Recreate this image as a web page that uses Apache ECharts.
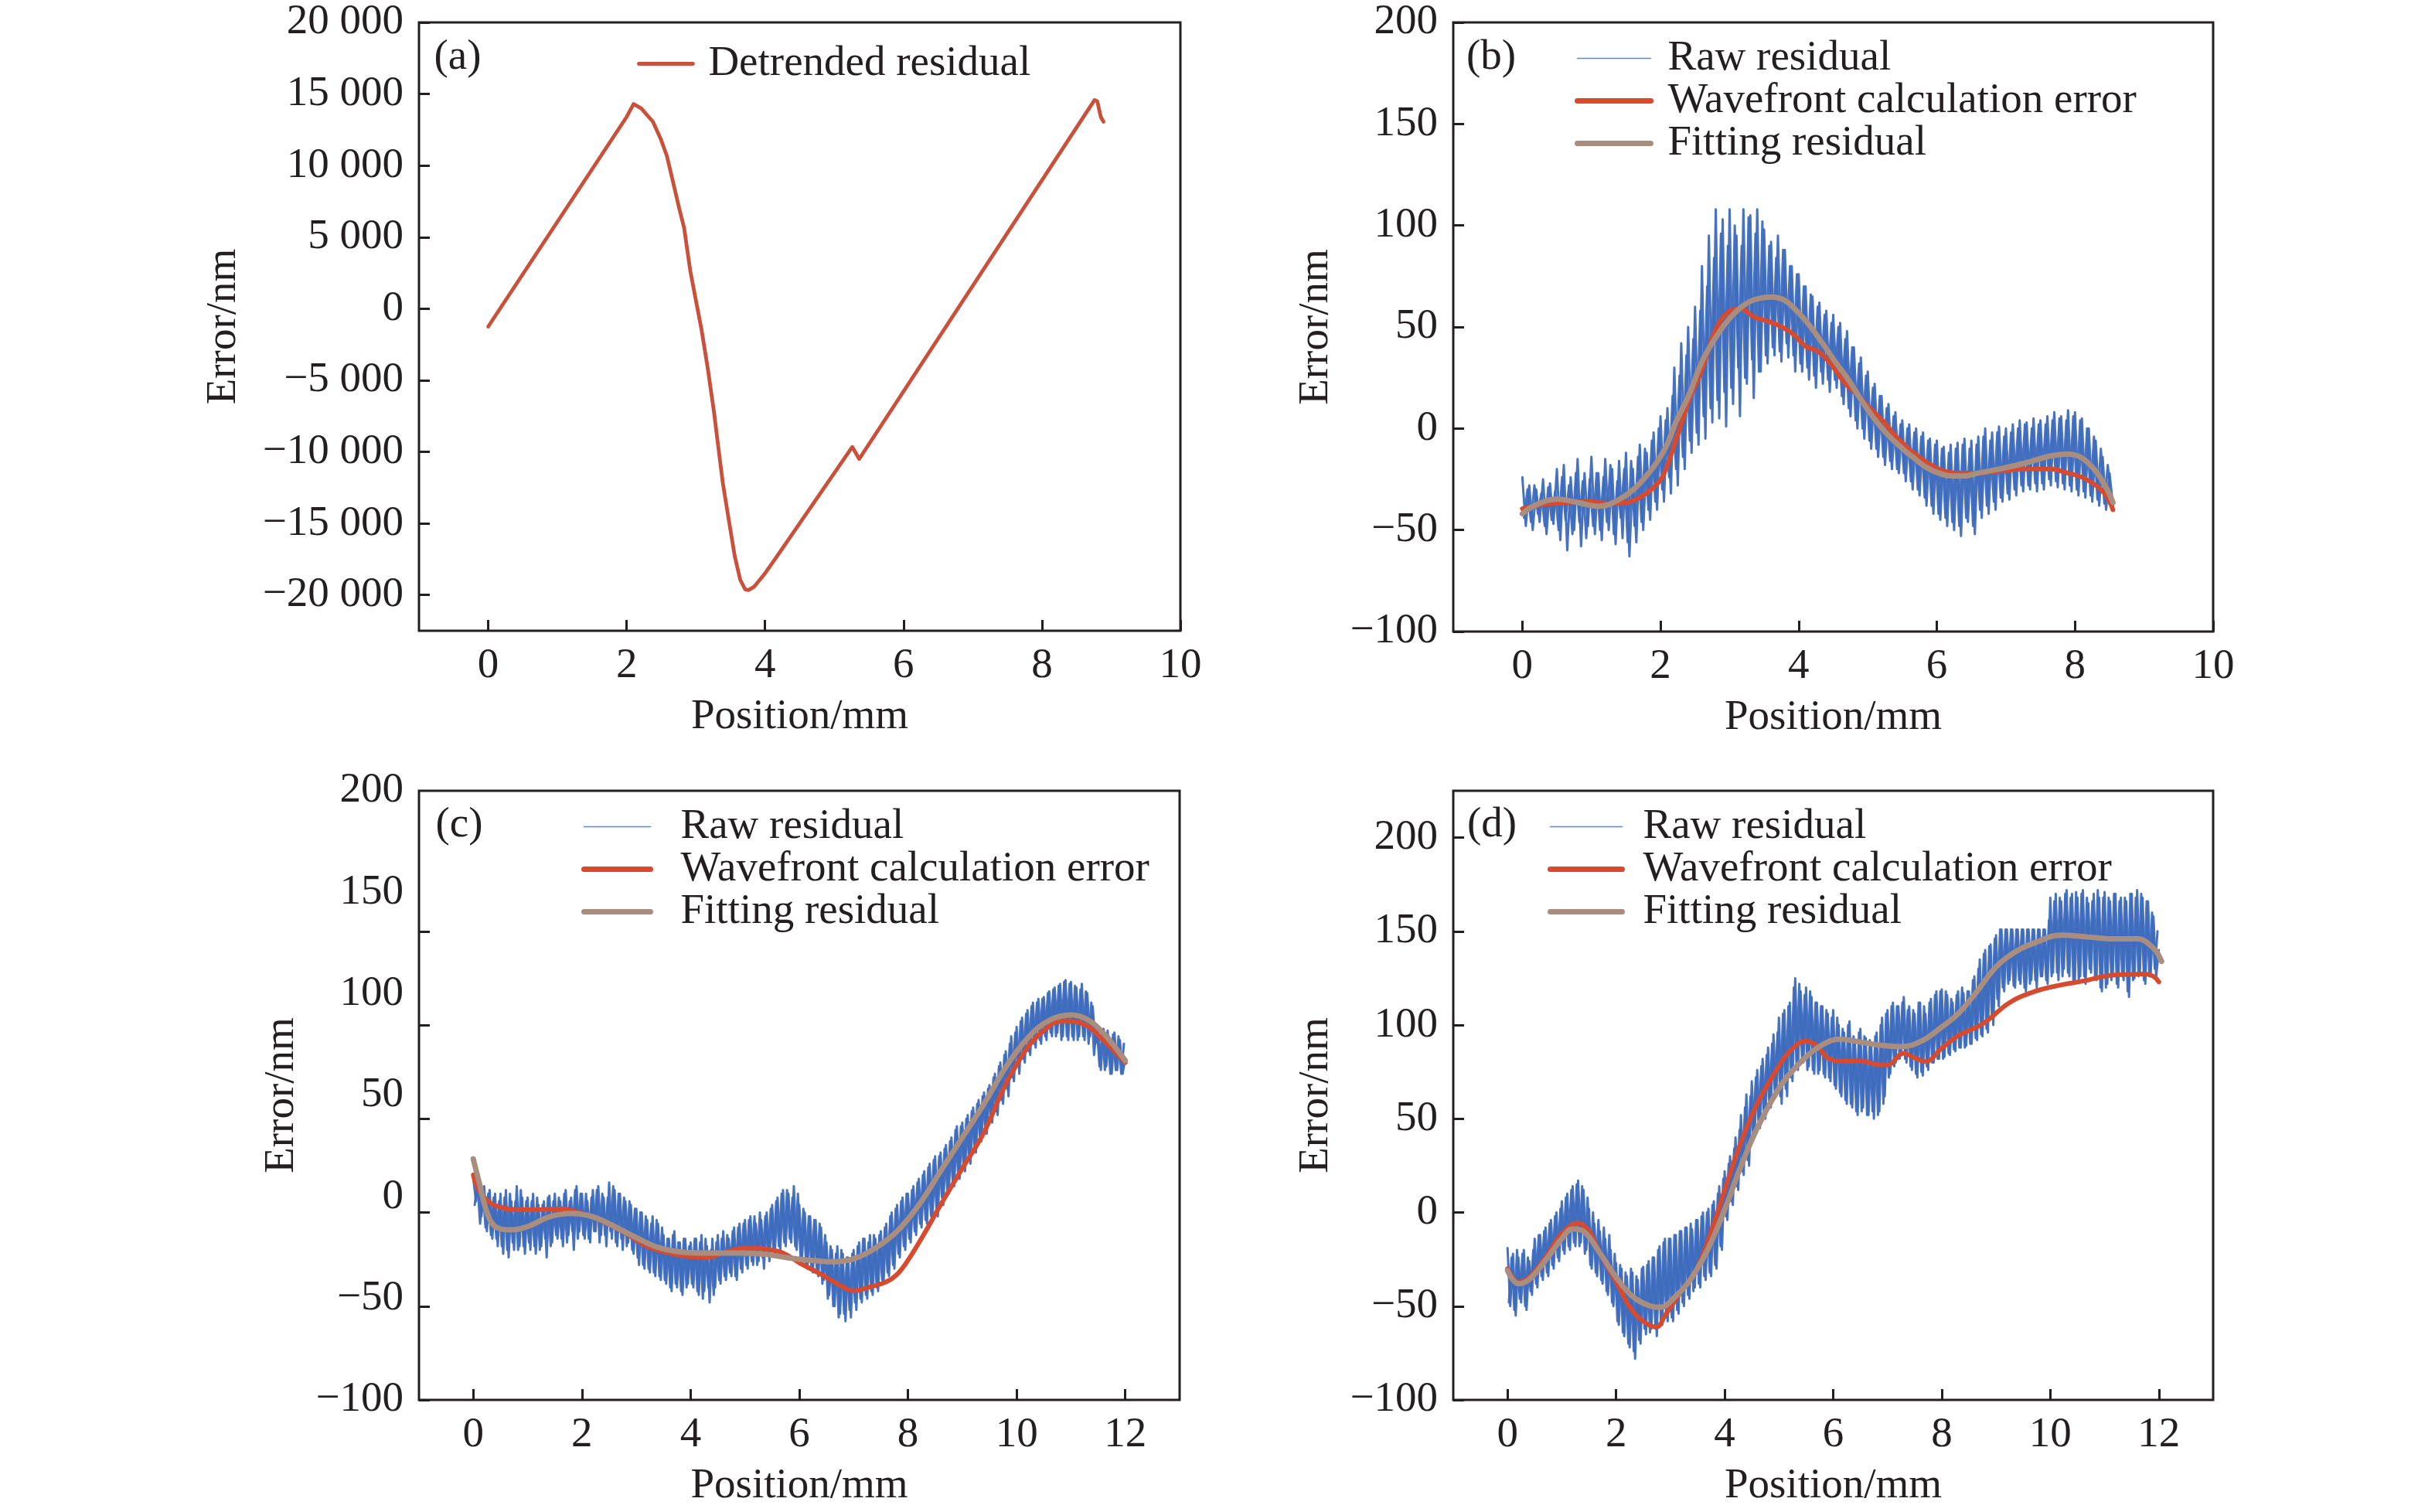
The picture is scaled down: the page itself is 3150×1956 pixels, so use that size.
<!DOCTYPE html>
<html><head><meta charset="utf-8">
<script src="https://cdn.jsdelivr.net/npm/echarts@6/dist/echarts.min.js"></script>
<style>html,body{margin:0;padding:0;background:#fff}#c{width:3150px;height:1956px}</style>
</head><body><div id="c"></div>
<script>
// ---------------- DATA ----------------
// (a) detrended residual
const detrendX = [0, 2.0, 2.10, 2.21, 2.38, 2.49, 2.58, 2.67, 2.76, 2.83, 2.92, 3.0, 3.08, 3.17, 3.26, 3.32, 3.39, 3.48, 3.56, 3.64, 3.71, 3.76, 3.84, 4.01, 4.18, 5.26, 5.36, 8.76, 8.80, 8.85, 8.89];
const detrendY = [-1250, 13400, 14300, 14000, 13060, 11890, 10700, 8860, 7000, 5660, 2630, 600, -1410, -4110, -7140, -9500, -12190, -14880, -17240, -18920, -19600, -19660, -19430, -18420, -17240, -9660, -10500, 14580, 14480, 13400, 13060];

// (b)
const wfbX = [0, 0.3, 0.6, 1.0, 1.2, 1.5, 1.7, 1.9, 2.04, 2.23, 2.41, 2.6, 2.79, 2.97, 3.16, 3.35, 3.54, 3.72, 3.91, 4.1, 4.28, 4.47, 4.66, 4.84, 5.03, 5.22, 5.41, 5.59, 5.78, 5.97, 6.16, 6.34, 6.53, 6.9, 7.28, 7.65, 7.9, 8.1, 8.3, 8.45, 8.55];
const wfbY = [-39.5, -37.5, -36.5, -36, -37, -36.5, -34, -29, -23, -5, 13.8, 29, 48, 57, 59, 55, 53, 50.6, 46.8, 40.5, 38, 31.6, 22.7, 17, 10, 3.7, -4, -10, -15, -19, -21.5, -22, -22, -21, -20, -20, -22, -24, -28, -33, -40];
const fitbX = [0, 0.2, 0.5, 0.8, 1.1, 1.4, 1.7, 2.04, 2.23, 2.41, 2.6, 2.79, 2.97, 3.16, 3.35, 3.6, 3.79, 3.97, 4.16, 4.35, 4.53, 4.72, 4.91, 5.09, 5.28, 5.47, 5.65, 5.84, 6.03, 6.22, 6.41, 6.59, 6.9, 7.28, 7.65, 7.9, 8.1, 8.3, 8.45, 8.55];
const fitbY = [-42, -37.6, -34.8, -36.4, -38.3, -35, -27, -11.5, 3.7, 16.4, 32.9, 44.3, 53, 59.5, 63.3, 64.8, 63.3, 58, 50.6, 41.7, 32.9, 24, 13.8, 5, -2.7, -9, -14, -19, -22, -23.4, -23.4, -22, -20, -17, -13.5, -12.6, -14.5, -21, -29, -36.4];
const RAW_STEP = 0.05;   // sample spacing of each raw-residual trace, mm
const RAW_SHIFT = 0.025; // the second trace is sampled half a step later
const rawB = [
 -24,-48,-28,-50,-30,-46,-25,-52,-27,-47,
 -20,-55,-18,-60,-24,-50,-15,-58,-22,-48,
 -14,-52,-22,-55,-15,-50,-20,-57,-16,-54,
 -12,-63,-20,-56,-8,-50,-12,-45,-2,-40,
 6,-36,10,-32,30,-28,42,-20,50,-12,
 60,-8,80,-5,95,3,108,5,103,1,
 108,12,95,6,108,22,105,15,108,28,
 98,32,92,36,95,33,88,35,80,28,
 76,28,70,24,65,20,62,22,58,18,
 56,20,52,12,48,6,40,0,35,-5,
 28,-10,22,-14,16,-18,12,-20,8,-22,
 4,-26,2,-30,0,-33,-2,-38,-5,-42,
 -6,-45,-9,-48,-8,-50,-7,-53,-5,-46,
 -6,-52,-4,-44,0,-42,-2,-40,1,-36,
 0,-35,2,-33,4,-31,3,-30,5,-31,
 4,-30,6,-28,8,-29,6,-30,9,-31,
 8,-33,5,-34,0,-36,-6,-38,-14,-40,
 -22,-38];
const rawB2 = [
 -44,-30,-46,-28,-42,-32,-48,-29,-45,-31,
 -50,-24,-45,-28,-52,-22,-46,-26,-54,-25,
 -48,-22,-50,-24,-46,-18,-52,-26,-44,-20,
 -56,-16,-48,-14,-46,-10,-40,-6,-36,0,
 -30,4,-24,16,-20,26,-14,36,-6,44,
 -2,58,6,70,10,84,14,96,18,90,
 20,100,30,90,25,104,34,96,28,102,
 36,90,40,84,38,88,42,80,36,76,
 32,70,30,66,26,60,28,56,24,52,
 24,50,16,44,10,40,4,32,0,26,
 -6,20,-10,16,-14,10,-16,6,-20,2,
 -22,0,-26,-2,-30,-4,-34,-6,-38,-8,
 -42,-10,-44,-12,-46,-10,-48,-8,-44,-10,
 -48,-8,-40,-4,-38,-6,-36,-2,-34,-4,
 -32,-2,-30,0,-28,2,-28,0,-27,2,
 -27,2,-25,4,-26,5,-27,4,-28,6,
 -30,4,-31,0,-33,-4,-35,-10,-37,-18,
 -36];

// (c)
const wfcX = [0, 0.1, 0.3, 0.5, 0.8, 1.2, 1.6, 2.0, 2.4, 2.8, 3.2, 3.6, 4.0, 4.3, 4.6, 5.0, 5.4, 5.7, 6.0, 6.4, 6.8, 7.0, 7.3, 7.6, 7.8, 8.0, 8.3, 8.6, 9.0, 9.4, 9.8, 10.2, 10.5, 10.8, 11.0, 11.3, 11.6, 12.0];
const wfcY = [20, 12, 5.4, 2.8, 1.5, 1.5, 2, -0.5, -5, -11, -18, -21.6, -23.7, -24, -21.6, -19, -19.6, -21.6, -26.8, -33, -39.7, -41.7, -39.7, -37, -33, -25.5, -11.3, 4, 23.5, 42.8, 68.5, 88, 97, 102, 102, 99.5, 91.7, 80];
const fitcX = [0, 0.1, 0.3, 0.5, 0.7, 1.0, 1.4, 1.8, 2.2, 2.6, 3.0, 3.4, 3.8, 4.2, 4.6, 5.0, 5.4, 5.8, 6.2, 6.6, 7.0, 7.4, 7.8, 8.2, 8.6, 9.0, 9.4, 9.8, 10.2, 10.6, 11.0, 11.3, 11.6, 12.0];
const fitcY = [28.6, 17, -3.6, -8.8, -9.3, -7.5, -2.3, -0.5, -2.3, -7.5, -13.4, -18.6, -21, -21.6, -21.6, -21.6, -22.4, -24.2, -25.5, -26.3, -24.7, -19, -10, 4, 22, 40, 58, 77.5, 93, 102.5, 105.4, 103, 95.5, 81];
const rawC = [
 18,6,20,-2,14,-10,12,-14,10,-18,
 10,-22,12,-24,6,-20,14,-18,8,-22,
 8,-20,10,-22,4,-18,6,-24,9,-16,
 10,-14,6,-18,12,-12,8,-20,14,-10,
 10,-14,6,-16,12,-10,14,-12,8,-18,
 16,-14,12,-18,10,-20,6,-16,4,-22,
 2,-28,0,-30,-4,-32,-2,-34,-6,-36,
 -12,-38,-14,-42,-10,-40,-16,-44,-14,-38,
 -16,-40,-14,-44,-12,-42,-18,-48,-14,-40,
 -12,-38,-10,-36,-14,-34,-8,-36,-6,-32,
 -4,-30,-2,-28,-6,-26,-4,-30,0,-26,
 4,-22,8,-20,12,-18,10,-16,14,-20,
 4,-24,0,-30,-2,-32,-4,-34,-8,-36,
 -16,-44,-20,-50,-18,-54,-22,-58,-24,-56,
 -20,-52,-16,-48,-14,-46,-12,-44,-14,-42,
 -10,-38,-6,-34,0,-30,4,-24,8,-20,
 10,-16,14,-12,18,-8,22,-6,26,-4,
 30,-2,32,4,36,10,40,14,46,18,
 48,22,52,26,56,32,60,38,64,42,
 68,48,74,52,80,58,86,62,94,70,
 99,74,104,80,108,84,112,88,114,90,
 115,92,118,94,120,96,122,94,124,92,
 123,92,120,94,122,92,117,94,110,90,
 97,76,98,78,94,74,96,76,92,74,
 82];
const rawC2 = [
 4,16,-6,12,-8,10,-12,8,-14,6,
 -18,8,-20,10,-16,6,-20,12,-18,6,
 -16,6,-18,8,-20,4,-14,8,-18,6,
 -12,8,-14,10,-16,6,-10,12,-14,10,
 -12,10,-14,8,-10,12,-16,10,-12,8,
 -10,14,-16,10,-14,8,-18,6,-20,2,
 -24,0,-28,-2,-30,-6,-32,-4,-34,-8,
 -36,-14,-40,-12,-38,-16,-42,-14,-40,-18,
 -38,-14,-42,-16,-46,-14,-40,-20,-44,-16,
 -36,-14,-34,-12,-32,-10,-34,-8,-30,-6,
 -28,-4,-26,-2,-28,0,-24,-2,-22,2,
 -20,6,-18,10,-16,12,-14,8,-18,10,
 -26,2,-28,-2,-30,-4,-32,-6,-38,-12,
 -46,-18,-50,-22,-56,-20,-54,-24,-52,-22,
 -48,-18,-46,-14,-44,-16,-42,-12,-40,-12,
 -36,-8,-32,-2,-28,2,-22,6,-18,10,
 -14,12,-10,16,-6,20,-4,24,-2,28,
 2,30,8,34,12,38,16,44,20,46,
 24,50,28,54,34,58,40,62,44,66,
 50,72,54,78,60,84,66,90,72,96,
 78,102,82,106,86,110,90,112,92,114,
 94,117,96,119,94,121,92,123,94,122,
 94,121,92,119,94,118,90,112,84,100,
 78,96,76,97,74,95,76,94,74,90];

// (d)
const wfdX = [0, 0.2, 0.4, 0.7, 1.0, 1.3, 1.5, 1.7, 2.0, 2.3, 2.6, 2.75, 2.9, 3.2, 3.5, 3.8, 4.0, 4.3, 4.6, 4.9, 5.2, 5.5, 5.7, 5.9, 6.2, 6.5, 6.8, 7.0, 7.3, 7.5, 7.7, 8.0, 8.3, 8.77, 9.25, 9.72, 10.2, 10.6, 11.14, 11.5, 11.76, 11.9, 12.0];
const wfdY = [-30, -37, -34.5, -24, -11.3, -5.7, -10, -21.6, -37, -52.4, -60, -61, -55, -42, -29.3, -6, 12, 37.5, 58, 73.5, 86, 91.5, 89, 82.5, 80.7, 80.7, 79, 78.7, 85, 82.5, 80.5, 87.7, 94.3, 101, 112, 118, 121.4, 123.5, 126.6, 127, 127.3, 126, 123];
const fitdX = [0, 0.2, 0.4, 0.7, 1.0, 1.2, 1.4, 1.7, 2.0, 2.3, 2.6, 2.8, 3.1, 3.4, 3.7, 4.0, 4.3, 4.6, 4.98, 5.2, 5.5, 5.8, 6.12, 6.4, 6.8, 7.25, 7.63, 8.0, 8.3, 8.65, 9.0, 9.35, 9.72, 10.2, 10.7, 11.14, 11.6, 11.9, 12.05];
const fitdY = [-31, -38, -35.7, -25.5, -13.9, -8.7, -10, -21.6, -34.5, -44.7, -49.6, -50.6, -44.7, -34.5, -19, 1.5, 24.7, 45, 65.4, 74, 83, 89.5, 92.5, 91.5, 89.5, 88.5, 91.5, 99, 106, 118, 131, 139, 144, 148, 147, 146, 146, 141, 134];
const rawD = [
 -19,-50,-22,-55,-24,-48,-20,-52,-26,-44,
 -14,-40,-12,-36,-8,-34,-4,-30,0,-26,
 6,-22,10,-20,14,-18,17,-16,12,-20,
 2,-30,-6,-34,-10,-38,-14,-44,-20,-50,
 -27,-60,-30,-66,-34,-72,-32,-78,-36,-70,
 -29,-65,-26,-62,-24,-66,-18,-60,-14,-58,
 -14,-58,-12,-54,-10,-50,-8,-46,-9,-40,
 -4,-40,0,-36,2,-34,6,-30,14,-20,
 22,-4,30,4,40,12,52,20,63,25,
 70,40,76,45,82,50,88,56,95,62,
 104,58,108,62,112,70,125,76,118,80,
 120,78,115,74,112,76,110,72,106,70,
 108,66,100,62,96,58,102,56,92,52,
 98,56,93,52,90,50,96,54,104,62,
 108,74,112,80,110,84,115,80,110,76,
 106,72,112,73,106,76,114,80,118,82,
 119,83,116,84,112,86,118,88,117,89,
 118,90,126,92,135,94,140,96,143,100,
 148,110,151,118,151,124,151,120,151,122,
 151,118,151,124,151,120,151,126,151,122,
 168,128,170,124,166,130,172,126,170,122,
 168,126,172,122,165,128,170,124,168,118,
 171,122,166,126,170,120,168,124,166,115,
 170,125,172,128,168,122,166,128,158,126,
 140];
const rawD2 = [
 -48,-24,-52,-20,-46,-22,-50,-24,-42,-20,
 -38,-12,-34,-10,-32,-6,-28,-2,-24,2,
 -20,8,-18,12,-16,15,-18,14,-22,8,
 -28,0,-32,-4,-36,-8,-42,-12,-48,-22,
 -58,-28,-64,-32,-70,-30,-74,-34,-68,-30,
 -62,-28,-64,-24,-62,-20,-58,-16,-56,-14,
 -56,-12,-52,-10,-48,-8,-44,-6,-42,-4,
 -38,-2,-34,0,-32,4,-28,10,-18,18,
 -2,26,6,34,14,44,22,56,28,62,
 42,72,48,78,52,84,58,90,64,96,
 62,106,66,110,72,120,78,122,82,116,
 76,118,76,112,74,110,74,108,72,104,
 68,104,64,98,60,100,58,94,54,96,
 54,94,52,92,54,94,52,100,58,106,
 72,110,78,110,82,112,82,108,78,108,
 74,112,75,110,78,112,80,116,82,118,
 82,118,85,114,87,116,88,120,88,118,
 90,124,93,130,95,138,98,142,104,146,
 114,151,120,151,122,151,121,151,124,151,
 120,151,122,151,124,151,126,151,124,156,
 126,166,128,168,126,170,128,168,124,171,
 124,170,126,168,130,166,126,172,120,168,
 120,168,124,170,122,166,126,168,118,170,
 124,168,126,170,124,166,126,160,130,150];

// Axis ticks and labels
const xTicks10 = [0, 2, 4, 6, 8, 10];
const xTickLabels10 = ['0', '2', '4', '6', '8', '10'];
const xTicks12 = [0, 2, 4, 6, 8, 10, 12];
const xTickLabels12 = ['0', '2', '4', '6', '8', '10', '12'];
const yTicksA = [-20000, -15000, -10000, -5000, 0, 5000, 10000, 15000, 20000];
const yTickLabelsA = ['\u221220 000', '\u221215 000', '\u221210 000', '\u22125 000', '0', '5 000', '10 000', '15 000', '20 000'];
const yTicksB = [-100, -50, 0, 50, 100, 150, 200];
const yTickLabelsB = ['\u2212100', '\u221250', '0', '50', '100', '150', '200'];
const yTicksC = [-100, -50, 0, 50, 100, 150];
const yTickLabelsC = ['\u2212100', '\u221250', '0', '50', '100', '150', '200'];
const yTicksD = [-100, -50, 0, 50, 100, 150, 200];
const yTickLabelsD = ['\u2212100', '\u221250', '0', '50', '100', '150', '200'];

const panelLetters = ['(a)', '(b)', '(c)', '(d)'];
const nameRaw = 'Raw residual', nameWf = 'Wavefront calculation error', nameFit = 'Fitting residual', nameDet = 'Detrended residual';

// ---------------- CHART ----------------
const FONT = '"Liberation Serif","Times New Roman",serif';
const INK = '#231f20';
const FS = 55;
const C_DET = '#c9503a', C_RAW = '#3d6abd', C_WF = '#d64a2f', C_FIT = '#a98d7f';

function pairs(xs, ys) { return xs.map((x, i) => [x, ys[i]]); }
function sampled(vals, shift) { return vals.map((v, i) => [Math.round((shift + i * RAW_STEP) * 1000) / 1000, v]); }
function labelFor(pos, labels) {
  return v => { let b = 0, bd = Infinity; pos.forEach((t, i) => { const d = Math.abs(t - v); if (d < bd) { bd = d; b = i; } }); return labels[b]; };
}
function evenly(min, max, n) { const r = []; for (let k = 0; k < n; k++) r.push(min + k * (max - min) / (n - 1)); return r; }
const txt = { fontSize: FS, fontFamily: FONT, color: INK };

function xAx(gi, max, ticks, labels) {
  return {
    type: 'value', gridIndex: gi, min: -1, max: max, position: 'bottom',
    axisLine: { show: false, onZero: false },
    axisTick: { show: true, inside: true, length: 14, lineStyle: { color: INK, width: 3 }, customValues: ticks },
    axisLabel: Object.assign({ customValues: ticks, formatter: labelFor(ticks, labels), margin: 18, showMinLabel: true, showMaxLabel: true }, txt),
    splitLine: { show: false },
    name: 'Position/mm', nameLocation: 'middle', nameGap: 84, nameTextStyle: txt
  };
}
function yAx(gi, min, max, ticks, labelPos, labels, gap) {
  return {
    type: 'value', gridIndex: gi, min: min, max: max, position: 'left',
    axisLine: { show: false, onZero: false },
    axisTick: { show: true, inside: true, length: 14, lineStyle: { color: INK, width: 3 }, customValues: ticks },
    axisLabel: Object.assign({ customValues: labelPos, formatter: labelFor(labelPos, labels), margin: 20, showMinLabel: true, showMaxLabel: true }, txt),
    splitLine: { show: false },
    name: 'Error/nm', nameLocation: 'middle', nameGap: gap, nameTextStyle: txt
  };
}
const gridBase = { show: true, borderColor: INK, borderWidth: 3, backgroundColor: 'transparent', outerBoundsMode: 'none', containLabel: false };
const grids = [
  Object.assign({ left: 542, top: 29, width: 985, height: 787 }, gridBase),
  Object.assign({ left: 1880, top: 29, width: 983, height: 788 }, gridBase),
  Object.assign({ left: 542, top: 1023, width: 984, height: 788 }, gridBase),
  Object.assign({ left: 1880, top: 1023, width: 983, height: 788 }, gridBase)
];

function line(name, gi, data, color, width, smooth, z, opacity) {
  return { type: 'line', name: name, xAxisIndex: gi, yAxisIndex: gi, data: data, symbol: 'none', showSymbol: false,
    smooth: smooth, lineStyle: { color: color, width: width, cap: 'round', join: 'round', opacity: opacity == null ? 1 : opacity }, itemStyle: { color: color },
    silent: true, animation: false, z: z };
}
const RAW_W = 3.0;
const series = [
  line(nameDet, 0, pairs(detrendX, detrendY), C_DET, 4.8, false, 2),
  line(nameRaw, 1, sampled(rawB, 0), C_RAW, RAW_W, false, 2, 0.95),
  line(nameRaw, 1, sampled(rawB2, RAW_SHIFT), C_RAW, RAW_W, false, 2, 0.95),
  line(nameWf, 1, pairs(wfbX, wfbY), C_WF, 6, 0.4, 3),
  line(nameFit, 1, pairs(fitbX, fitbY), C_FIT, 7, 0.4, 4),
  line(nameRaw, 2, sampled(rawC, 0), C_RAW, RAW_W, false, 2, 0.95),
  line(nameRaw, 2, sampled(rawC2, RAW_SHIFT), C_RAW, RAW_W, false, 2, 0.95),
  line(nameWf, 2, pairs(wfcX, wfcY), C_WF, 6, 0.4, 3),
  line(nameFit, 2, pairs(fitcX, fitcY), C_FIT, 7, 0.4, 4),
  line(nameRaw, 3, sampled(rawD, 0), C_RAW, RAW_W, false, 2, 0.95),
  line(nameRaw, 3, sampled(rawD2, RAW_SHIFT), C_RAW, RAW_W, false, 2, 0.95),
  line(nameWf, 3, pairs(wfdX, wfdY), C_WF, 6, 0.4, 3),
  line(nameFit, 3, pairs(fitdX, fitdY), C_FIT, 7, 0.4, 4)
];

function legend(names, widths, left, top, itemWidth, textGap, lh) {
  return {
    orient: 'vertical', left: left, top: top, padding: 0, itemGap: 0, itemWidth: itemWidth, itemHeight: 3,
    selectedMode: false, itemStyle: { opacity: 0 },
    data: names.map((n, i) => ({ name: n, lineStyle: { width: widths[i], cap: 'round', color: n === nameRaw ? '#5a82b4' : undefined } })),
    textStyle: Object.assign({ lineHeight: lh, padding: [0, 0, 0, textGap - 5] }, txt)
  };
}
const legends = [
  legend([nameDet], [4.8], 824, 55, 70, 20, 52),
  legend([nameRaw, nameWf, nameFit], [1.5, 7, 7], 2037, 48, 95, 22, 52),
  legend([nameRaw, nameWf, nameFit], [1.5, 7, 7], 752, 1042, 86, 39, 50),
  legend([nameRaw, nameWf, nameFit], [1.5, 7, 7], 2002, 1042, 93, 27, 50)
];

const letterPos = [[592, 75], [1929, 75], [594, 1068], [1930, 1068]];
const graphic = panelLetters.map((t, i) => ({
  type: 'text', x: letterPos[i][0], y: letterPos[i][1], silent: true,
  style: { text: t, font: FS + 'px ' + FONT, fill: INK, textAlign: 'center', textVerticalAlign: 'middle' }
}));

const option = {
  backgroundColor: '#ffffff',
  animation: false,
  grid: grids,
  xAxis: [
    xAx(0, 10, xTicks10, xTickLabels10),
    xAx(1, 10, xTicks10, xTickLabels10),
    xAx(2, 13, xTicks12, xTickLabels12),
    xAx(3, 13, xTicks12, xTickLabels12)
  ],
  yAxis: [
    yAx(0, -22500, 20000, yTicksA, yTicksA, yTickLabelsA, 225),
    yAx(1, -100, 200, yTicksB, yTicksB, yTickLabelsB, 150),
    yAx(2, -100, 225, yTicksC, evenly(-100, 225, yTickLabelsC.length), yTickLabelsC, 150),
    yAx(3, -100, 225, yTicksD, yTicksD, yTickLabelsD, 150)
  ],
  legend: legends,
  graphic: graphic,
  series: series
};
const chart = echarts.init(document.getElementById('c'), null, { renderer: 'canvas' });
chart.setOption(option);
</script>
</body></html>
